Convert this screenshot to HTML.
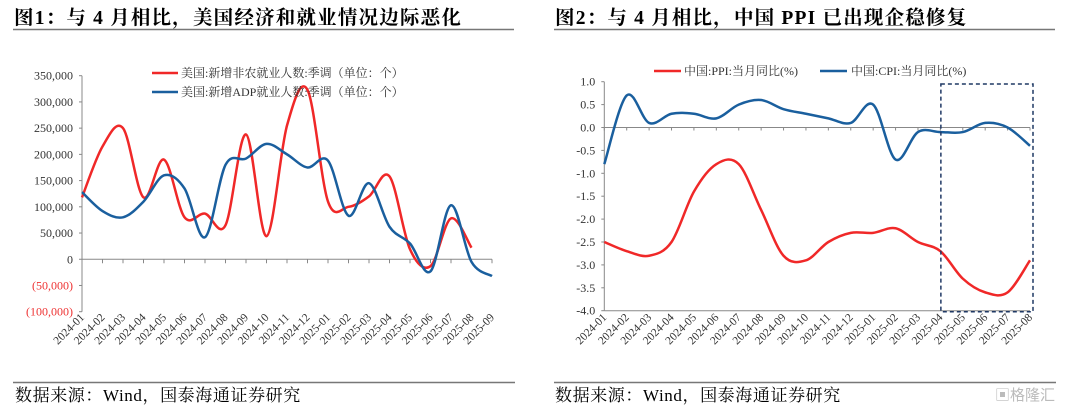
<!DOCTYPE html>
<html><head><meta charset="utf-8"><style>
body{margin:0;background:#fff;}
svg{display:block;font-family:"Liberation Serif","Noto Serif CJK SC",serif;}
</style></head><body>
<svg width="1080" height="413" viewBox="0 0 1080 413" xmlns="http://www.w3.org/2000/svg">
<text x="14" y="24" font-size="19.5" font-weight="bold" letter-spacing="1.2">图1：与 4 月相比，美国经济和就业情况边际恶化</text>
<line x1="13" y1="29.5" x2="514" y2="29.5" stroke="#777" stroke-width="1.5"/>
<text x="555" y="24" font-size="19.5" font-weight="bold" letter-spacing="1.2">图2：与 4 月相比，中国 PPI 已出现企稳修复</text>
<line x1="554" y1="29.5" x2="1055" y2="29.5" stroke="#777" stroke-width="1.5"/>
<line x1="13" y1="382.5" x2="515" y2="382.5" stroke="#777" stroke-width="1.5"/>
<text x="15" y="401" font-size="17" letter-spacing="0.6">数据来源：Wind，国泰海通证券研究</text>
<line x1="554" y1="382.5" x2="1056" y2="382.5" stroke="#777" stroke-width="1.5"/>
<text x="555" y="401" font-size="17" letter-spacing="0.6">数据来源：Wind，国泰海通证券研究</text>
<text x="995" y="400" font-size="15" fill="#bbb" font-family="Liberation Sans,Noto Sans CJK SC,sans-serif">▣格隆汇</text>
<g id="left"></g>
<g id="right"></g>
</svg>
<script>
const leftCats=["2024-01","2024-02","2024-03","2024-04","2024-05","2024-06","2024-07","2024-08","2024-09","2024-10","2024-11","2024-12","2025-01","2025-02","2025-03","2025-04","2025-05","2025-06","2025-07","2025-08","2025-09"];
const nfpVals=[118000,215000,250000,118000,190000,80000,87000,65000,238000,44000,255000,323000,110000,100000,120000,158000,19000,-13000,78000,22000];
const adpVals=[128000,92000,80000,110000,160000,135000,42000,180000,192000,220000,200000,175000,188000,83000,145000,62000,30000,-23000,103000,-5000,-32000];
const leftTicks=[350000,300000,250000,200000,150000,100000,50000,0,-50000,-100000];
const rightCats=["2024-01","2024-02","2024-03","2024-04","2024-05","2024-06","2024-07","2024-08","2024-09","2024-10","2024-11","2024-12","2025-01","2025-02","2025-03","2025-04","2025-05","2025-06","2025-07","2025-08"];
const ppiVals=[-2.5,-2.7,-2.8,-2.5,-1.4,-0.8,-0.8,-1.8,-2.8,-2.9,-2.5,-2.3,-2.3,-2.2,-2.5,-2.7,-3.3,-3.6,-3.6,-2.9];
const cpiVals=[-0.8,0.7,0.1,0.3,0.3,0.2,0.5,0.6,0.4,0.3,0.2,0.1,0.5,-0.7,-0.1,-0.1,-0.1,0.1,0.0,-0.4];
const rightTicks=[1.0,0.5,0.0,-0.5,-1.0,-1.5,-2.0,-2.5,-3.0,-3.5,-4.0];

const NS="http://www.w3.org/2000/svg";
function mk(parent,tag,attrs,text){const e=document.createElementNS(NS,tag);for(const k in attrs)e.setAttribute(k,attrs[k]);if(text!==undefined)e.textContent=text;parent.appendChild(e);return e;}
function smooth(pts){let d="M"+pts[0][0]+","+pts[0][1];for(let i=0;i<pts.length-1;i++){const p0=pts[i-1]||pts[i],p1=pts[i],p2=pts[i+1],p3=pts[i+2]||p2;const c1x=p1[0]+(p2[0]-p0[0])/6,c1y=p1[1]+(p2[1]-p0[1])/6,c2x=p2[0]-(p3[0]-p1[0])/6,c2y=p2[1]-(p3[1]-p1[1])/6;d+=" C"+c1x+","+c1y+" "+c2x+","+c2y+" "+p2[0]+","+p2[1];}return d;}
function fmt(v){const s=Math.abs(v).toLocaleString("en-US");return v<0?"("+s+")":s;}

(function(){
const g=document.getElementById("left");
const x0=82,x1=492,yTop=75.7,yBot=311.7,vTop=350000,vBot=-100000;
const xs=i=>x0+i*(x1-x0)/(leftCats.length-1);
const ys=v=>yTop+(vTop-v)*(yBot-yTop)/(vTop-vBot);
const ax=mk(g,"line",{x1:x0,y1:yTop,x2:x0,y2:yBot,stroke:"#888"});


leftTicks.forEach(t=>{
 const tk=mk(g,"line",{x1:x0-3,y1:ys(t),x2:x0,y2:ys(t),stroke:"#888"});
 
 
 const lb=mk(g,"text",{x:x0-9,y:ys(t)+4,"font-size":12,"text-anchor":"end",fill:t<0?"#e33":"#333"},fmt(t));
 
 
});
const zx=mk(g,"line",{x1:x0,y1:ys(0),x2:x1,y2:ys(0),stroke:"#888"});


leftCats.forEach((c,i)=>{
 const tk=mk(g,"line",{x1:xs(i),y1:ys(0),x2:xs(i),y2:ys(0)+4,stroke:"#888"});
 
 
 const lb=mk(g,"text",{x:xs(i)+3,y:318,"font-size":11.5,"text-anchor":"end",fill:"#333",transform:"rotate(-45 "+(xs(i)+3)+" 318)"},c);
 
 
});
const rp=mk(g,"path",{d:smooth(nfpVals.map((v,i)=>[xs(i),ys(v)])),fill:"none",stroke:"#f02828","stroke-width":2.5});


const bp=mk(g,"path",{d:smooth(adpVals.map((v,i)=>[xs(i),ys(v)])),fill:"none",stroke:"#1a5f9e","stroke-width":2.5});


const l1=mk(g,"line",{x1:152,y1:73,x2:178,y2:73,stroke:"#f02828","stroke-width":2.5});


const t1=mk(g,"text",{x:181,y:77,"font-size":12,fill:"#333"},"美国:新增非农就业人数:季调（单位：个）");


const l2=mk(g,"line",{x1:152,y1:92,x2:178,y2:92,stroke:"#1a5f9e","stroke-width":2.5});


const t2=mk(g,"text",{x:181,y:96,"font-size":12,fill:"#333"},"美国:新增ADP就业人数:季调（单位：个）");


})();

(function(){
const g=document.getElementById("right");
const x0=604.3,x1=1030,yTop=81.7,yBot=310.7,vTop=1.0,vBot=-4.0;
const xs=i=>x0+i*(x1-x0)/(rightCats.length-1);
const ys=v=>yTop+(vTop-v)*(yBot-yTop)/(vTop-vBot);
const ax=mk(g,"line",{x1:x0,y1:yTop,x2:x0,y2:yBot,stroke:"#888"});


const bx=mk(g,"line",{x1:x0,y1:yBot,x2:x1,y2:yBot,stroke:"#888"});


rightTicks.forEach(t=>{
 const tk=mk(g,"line",{x1:x0-3,y1:ys(t),x2:x0,y2:ys(t),stroke:"#888"});
 
 
 const lb=mk(g,"text",{x:x0-9,y:ys(t)+4,"font-size":12,"text-anchor":"end",fill:"#333"},t.toFixed(1));
 
 
});
const zx=mk(g,"line",{x1:x0,y1:ys(0),x2:x1,y2:ys(0),stroke:"#888"});


rightCats.forEach((c,i)=>{
 const tk=mk(g,"line",{x1:xs(i),y1:ys(0),x2:xs(i),y2:ys(0)+3,stroke:"#888"});
 
 
 const lb=mk(g,"text",{x:xs(i)+3,y:318,"font-size":11.5,"text-anchor":"end",fill:"#333",transform:"rotate(-45 "+(xs(i)+3)+" 318)"},c);
 
 
});
const rp=mk(g,"path",{d:smooth(ppiVals.map((v,i)=>[xs(i),ys(v)])),fill:"none",stroke:"#f02828","stroke-width":2.5});


const bp=mk(g,"path",{d:smooth(cpiVals.map((v,i)=>[xs(i),ys(v)])),fill:"none",stroke:"#1a5f9e","stroke-width":2.5});


const box=mk(g,"rect",{x:xs(15)+0.5,y:84,width:1033-xs(15)-0.5,height:227.7,fill:"none",stroke:"#1f3864","stroke-width":1.5,"stroke-dasharray":"4,3"});


const l1=mk(g,"line",{x1:654,y1:71,x2:681,y2:71,stroke:"#f02828","stroke-width":2.5});


const t1=mk(g,"text",{x:684,y:75,"font-size":12,fill:"#333"},"中国:PPI:当月同比(%)");


const l2=mk(g,"line",{x1:820,y1:71,x2:847,y2:71,stroke:"#1a5f9e","stroke-width":2.5});


const t2=mk(g,"text",{x:851,y:75,"font-size":12,fill:"#333"},"中国:CPI:当月同比(%)");


})();
</script>
</body></html>
